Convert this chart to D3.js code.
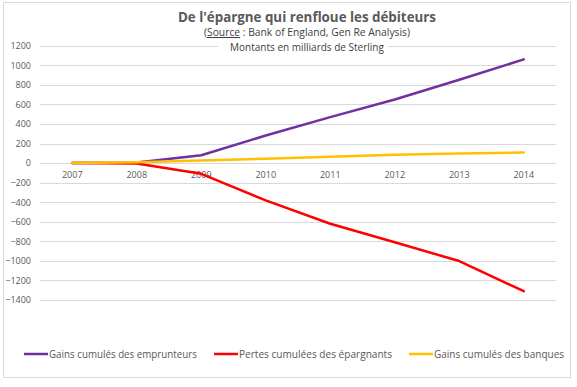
<!DOCTYPE html>
<html>
<head>
<meta charset="utf-8">
<script src="https://cdn.jsdelivr.net/npm/d3@7"></script>
<style>
  body { margin: 0; background: #fff; }
  svg text { font-family: "Open Sans", "Noto Sans", sans-serif; }
</style>
</head>
<body>
<script>
// data
const years = ["2007", "2008", "2009", "2010", "2011", "2012", "2013", "2014"];
const emprunteurs = [0, 5, 80, 282, 470, 650, 852, 1060];
const epargnants = [0, -5, -110, -382, -620, -810, -1002, -1310];
const banques = [0, 8, 25, 45, 64, 84, 97, 108];
const yTicks = [1200, 1000, 800, 600, 400, 200, 0, -200, -400, -600, -800, -1000, -1200, -1400];

const series = [
  {name: "Gains cumulés des emprunteurs", values: emprunteurs, color: "#7030a0"},
  {name: "Pertes cumulées des épargnants", values: epargnants, color: "#ff0000"},
  {name: "Gains cumulés des banques", values: banques, color: "#ffc000"}
];

const W = 577, H = 387;
const txt = "#595959";
const cx = 307; // centre of the title block

const svg = d3.select("body").append("svg")
  .attr("width", W).attr("height", H);

// chart frame
svg.append("rect")
  .attr("x", 3.5).attr("y", 2.5)
  .attr("width", 567).attr("height", 375)
  .attr("fill", "#fff").attr("stroke", "#d9d9d9");

// scales
const x = d3.scaleBand().domain(years).range([40, 556]);
const y = d3.scaleLinear().domain([-1400, 1200]).range([300, 45.7]);

// gridlines
svg.append("g")
  .selectAll("line")
  .data(yTicks)
  .enter()
  .append("line")
  .attr("x1", 40).attr("x2", 556)
  .attr("y1", d => Math.round(y(d)) + 0.5)
  .attr("y2", d => Math.round(y(d)) + 0.5)
  .attr("stroke", "#d9d9d9").attr("stroke-width", 1);

// title block (white box hides the top gridline behind it)
svg.append("rect")
  .attr("x", 218).attr("y", 40)
  .attr("width", 170).attr("height", 14)
  .attr("fill", "#fff");

svg.append("text")
  .attr("x", cx).attr("y", 22)
  .attr("text-anchor", "middle")
  .attr("font-size", 14.5).attr("font-weight", "bold")
  .attr("fill", txt)
  .attr("textLength", 258).attr("lengthAdjust", "spacingAndGlyphs")
  .text("De l'épargne qui renfloue les débiteurs");

let sub = svg.append("text")
  .attr("x", cx).attr("y", 36)
  .attr("text-anchor", "middle")
  .attr("font-size", 10.3).attr("fill", "#404040");
sub.append("tspan").text("(");
sub.append("tspan").attr("text-decoration", "underline").text("Source");
sub.append("tspan").text(" :  Bank of England, Gen Re Analysis)");

svg.append("text")
  .attr("x", cx).attr("y", 50.5)
  .attr("text-anchor", "middle")
  .attr("font-size", 10).attr("fill", "#404040")
  .text("Montants en milliards de Sterling");

// y axis labels
const yAxis = svg.append("g")
  .attr("transform", "translate(40,0)")
  .call(d3.axisLeft(y).tickValues(yTicks).tickSize(0).tickPadding(9).tickFormat(d3.format("d")));
yAxis.select(".domain").remove();
yAxis.selectAll("text")
  .attr("fill", txt).attr("font-size", 9)
  .style("font-family", "'Open Sans', sans-serif");

// x axis crossing at 0
const xAxis = svg.append("g")
  .attr("transform", "translate(0," + y(0) + ")")
  .call(d3.axisBottom(x).tickSize(0).tickPadding(9));
xAxis.select(".domain").remove();
xAxis.selectAll("text")
  .attr("fill", txt).attr("font-size", 9)
  .style("font-family", "'Open Sans', sans-serif");

// lines
const line = d3.line()
  .x((d, i) => x(years[i]) + x.bandwidth() / 2)
  .y(d => y(d));

svg.append("g")
  .selectAll("path")
  .data(series)
  .enter()
  .append("path")
  .attr("d", d => line(d.values))
  .attr("fill", "none")
  .attr("stroke", d => d.color)
  .attr("stroke-width", 2.5)
  .attr("stroke-linejoin", "round")
  .attr("stroke-linecap", "round");

// legend
const legendX = [24, 214, 409];
const legendW = [148, 153, 130];
const lg = svg.append("g")
  .selectAll("g")
  .data(series)
  .enter()
  .append("g")
  .attr("transform", (d, i) => "translate(" + legendX[i] + ",354)");
lg.append("line")
  .attr("x1", 0).attr("x2", 24)
  .attr("stroke", d => d.color).attr("stroke-width", 2.5);
lg.append("text")
  .attr("x", 25).attr("y", 3.8)
  .attr("font-size", 10.5).attr("fill", txt)
  .attr("textLength", (d, i) => legendW[i]).attr("lengthAdjust", "spacingAndGlyphs")
  .text(d => d.name);
</script>
</body>
</html>
